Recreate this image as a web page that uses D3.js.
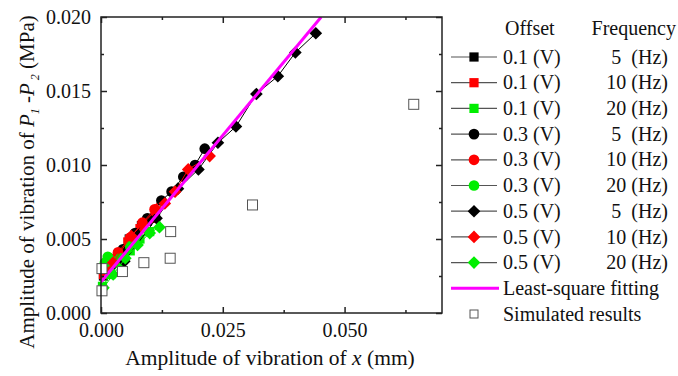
<!DOCTYPE html>
<html>
<head>
<meta charset="utf-8">
<script src="https://cdn.jsdelivr.net/npm/d3@7"></script>
<style>
  body { margin: 0; background: #fff; }
  svg text { font-family: "Liberation Serif", "Times New Roman", serif; fill: #111; }
</style>
</head>
<body>
<div id="chart"></div>
<script>
// series: [x (mm), P1-P2 (MPa)]
const s01_5 = [[0.0005,0.0025],[0.0035,0.0038],[0.0058,0.0050],[0.0083,0.0059],[0.0095,0.0062],[0.0112,0.0064]];
const s01_10 = [[0.0005,0.0026],[0.0030,0.0037],[0.0055,0.0048],[0.0080,0.0057],[0.0105,0.0064]];
const s01_20 = [[0.0003,0.0018],[0.0020,0.0026],[0.0040,0.0034],[0.0060,0.0042],[0.0080,0.0050],[0.0100,0.0055]];
const s03_5 = [[0.0020,0.0032],[0.0045,0.0043],[0.0070,0.0054],[0.0095,0.0064],[0.0124,0.0076],[0.0145,0.0082],[0.0169,0.0092],[0.0193,0.0100],[0.0213,0.0111]];
const s03_10 = [[0.0012,0.0030],[0.0035,0.0041],[0.0060,0.0051],[0.0085,0.0061],[0.0110,0.0070]];
const s03_20 = [[0.0008,0.0034],[0.0014,0.0038],[0.0022,0.0035],[0.0040,0.0037],[0.0060,0.0045]];
const s05_5 = [[0.0048,0.0035],[0.0114,0.0064],[0.0158,0.0084],[0.0200,0.0097],[0.0240,0.0115],[0.0277,0.0126],[0.0319,0.0148],[0.0363,0.0160],[0.0399,0.0176],[0.0441,0.0189]];
const s05_10 = [[0.0025,0.0034],[0.0062,0.0052],[0.0114,0.0070],[0.0131,0.0074],[0.0152,0.0082],[0.0179,0.0097],[0.0223,0.0106]];
const s05_20 = [[0.0005,0.0017],[0.0025,0.0026],[0.0050,0.0037],[0.0075,0.0046],[0.0100,0.0054],[0.0120,0.0058]];
const simulated = [[0.0002,0.0030],[0.0002,0.0015],[0.0044,0.0028],[0.0088,0.0034],[0.0142,0.0037],[0.0143,0.0055],[0.0311,0.0073],[0.0642,0.0141]];
const fitX = [0, 0.0452];
const fitY = [0.0021, 0.0200];

const offsets = ["0.1 (V)","0.1 (V)","0.1 (V)","0.3 (V)","0.3 (V)","0.3 (V)","0.5 (V)","0.5 (V)","0.5 (V)"];
const freqs = ["5  (Hz)","10 (Hz)","20 (Hz)","5  (Hz)","10 (Hz)","20 (Hz)","5  (Hz)","10 (Hz)","20 (Hz)"];
const seriesData = [s01_5, s01_10, s01_20, s03_5, s03_10, s03_20, s05_5, s05_10, s05_20];
const colors = ["#000000","#ff0000","#00ee00"];
// square, circle, diamond (square turned 45 deg)
const shapes = [d3.symbolSquare, d3.symbolCircle, d3.symbolSquare];
const symSize = [85, 90, 80];
const symRot = [0, 0, 45];

const xTicks = [0, 0.025, 0.050];
const yTicks = [0, 0.005, 0.010, 0.015, 0.020];

const W = 678, H = 376;
const mLeft = 101, mRight = 442, mTop = 17, mBottom = 313;

const svg = d3.select("#chart").append("svg")
    .attr("width", W).attr("height", H);

const x = d3.scaleLinear().domain([0, 0.07]).range([mLeft, mRight]);
const y = d3.scaleLinear().domain([0, 0.02]).range([mBottom, mTop]);

const plot = svg.append("g");
plot.append("clipPath").attr("id", "clip")
    .append("rect").attr("x", mLeft).attr("y", mTop)
    .attr("width", mRight - mLeft).attr("height", mBottom - mTop);

const line = d3.line().x(d => x(d[0])).y(d => y(d[1]));

// data series
seriesData.forEach((data, i) => {
    const col = colors[i % 3];
    const k = Math.floor(i / 3);
    plot.append("path")
        .datum(data)
        .attr("d", line)
        .attr("fill", "none")
        .attr("stroke", col)
        .attr("stroke-width", 1);
    plot.selectAll(null)
        .data(data)
        .enter()
        .append("path")
        .attr("transform", d => `translate(${x(d[0])},${y(d[1])}) rotate(${symRot[k]})`)
        .attr("d", d3.symbol().type(shapes[k]).size(symSize[k]))
        .attr("fill", col);
});

// least-square fit
plot.append("path")
    .datum(fitX.map((v, i) => [v, fitY[i]]))
    .attr("d", line)
    .attr("clip-path", "url(#clip)")
    .attr("fill", "none")
    .attr("stroke", "#ff00ff")
    .attr("stroke-width", 3);

// simulated results
plot.selectAll(".sim")
    .data(simulated)
    .enter()
    .append("rect")
    .attr("class", "sim")
    .attr("x", d => x(d[0]) - 5)
    .attr("y", d => y(d[1]) - 5)
    .attr("width", 10).attr("height", 10)
    .attr("fill", "#fff")
    .attr("stroke", "#555")
    .attr("stroke-width", 1);

// axes (ticks inside)
const fmt = d3.format(".3f");
svg.append("g")
    .attr("transform", `translate(0,${mBottom})`)
    .call(d3.axisBottom(x).tickValues(xTicks).tickFormat(fmt).tickSizeInner(-6).tickSizeOuter(0).tickPadding(10))
    .call(g => g.select(".domain").remove())
    .call(g => g.selectAll("text").attr("font-size", 20));
svg.append("g")
    .attr("transform", `translate(0,${mTop})`)
    .call(d3.axisTop(x).tickValues(xTicks).tickFormat("").tickSizeInner(-6).tickSizeOuter(0))
    .call(g => g.select(".domain").remove());
svg.append("g")
    .attr("transform", `translate(${mLeft},0)`)
    .call(d3.axisLeft(y).tickValues(yTicks).tickFormat(fmt).tickSizeInner(-6).tickSizeOuter(0).tickPadding(10))
    .call(g => g.select(".domain").remove())
    .call(g => g.selectAll("text").attr("font-size", 20));
svg.append("g")
    .attr("transform", `translate(${mRight},0)`)
    .call(d3.axisRight(y).tickValues(yTicks).tickFormat("").tickSizeInner(-6).tickSizeOuter(0))
    .call(g => g.select(".domain").remove());

// minor ticks
const xMinor = xTicks.map(v => v + 0.0125);
const yMinor = yTicks.slice(0, -1).map(v => v + 0.0025);
svg.append("g").attr("transform", `translate(0,${mBottom})`)
    .call(d3.axisBottom(x).tickValues(xMinor).tickFormat("").tickSizeInner(-3).tickSizeOuter(0))
    .call(g => g.select(".domain").remove());
svg.append("g").attr("transform", `translate(0,${mTop})`)
    .call(d3.axisTop(x).tickValues(xMinor).tickFormat("").tickSizeInner(-3).tickSizeOuter(0))
    .call(g => g.select(".domain").remove());
svg.append("g").attr("transform", `translate(${mLeft},0)`)
    .call(d3.axisLeft(y).tickValues(yMinor).tickFormat("").tickSizeInner(-3).tickSizeOuter(0))
    .call(g => g.select(".domain").remove());
svg.append("g").attr("transform", `translate(${mRight},0)`)
    .call(d3.axisRight(y).tickValues(yMinor).tickFormat("").tickSizeInner(-3).tickSizeOuter(0))
    .call(g => g.select(".domain").remove());

svg.selectAll(".tick line").attr("stroke", "#222").attr("stroke-width", 1.5);

svg.append("rect")
    .attr("x", mLeft).attr("y", mTop)
    .attr("width", mRight - mLeft).attr("height", mBottom - mTop)
    .attr("fill", "none").attr("stroke", "#222").attr("stroke-width", 1.5);

// axis titles
const xt = svg.append("text")
    .attr("x", 270).attr("y", 365)
    .attr("text-anchor", "middle").attr("font-size", 21.5);
xt.append("tspan").text("Amplitude of vibration of ");
xt.append("tspan").attr("font-style", "italic").text("x");
xt.append("tspan").text(" (mm)");

const yt = svg.append("text")
    .attr("transform", `translate(34,182) rotate(-90)`)
    .attr("text-anchor", "middle").attr("font-size", 21);
yt.append("tspan").text("Amplitude of vibration of ");
yt.append("tspan").attr("font-style", "italic").text("P");
yt.append("tspan").attr("font-style", "italic").attr("font-size", 12).attr("dy", 5).text("1");
yt.append("tspan").attr("dy", -5).text(" -");
yt.append("tspan").attr("font-style", "italic").text("P");
yt.append("tspan").attr("font-style", "italic").attr("font-size", 12).attr("dy", 5).text(" 2");
yt.append("tspan").attr("dy", -5).text(" (MPa)");

// legend
const lg = svg.append("g").attr("font-size", 20);
lg.append("text").attr("x", 505).attr("y", 35).text("Offset");
lg.append("text").attr("x", 676).attr("y", 35).attr("text-anchor", "end").text("Frequency");

const rowY = i => 57 + i * 25.7;
seriesData.forEach((data, i) => {
    const yy = rowY(i);
    const col = colors[i % 3];
    const k = Math.floor(i / 3);
    lg.append("line").attr("x1", 451).attr("x2", 497).attr("y1", yy).attr("y2", yy)
        .attr("stroke", "#555").attr("stroke-width", 1.2);
    lg.append("path")
        .attr("transform", `translate(474,${yy}) rotate(${symRot[k]})`)
        .attr("d", d3.symbol().type(shapes[k]).size(symSize[k]))
        .attr("fill", col);
    lg.append("text").attr("x", 503).attr("y", yy).attr("dy", "0.33em").text(offsets[i]);
    lg.append("text").attr("x", 668).attr("y", yy).attr("dy", "0.33em")
        .attr("text-anchor", "end").style("white-space", "pre").text(freqs[i]);
});
const yFit = rowY(9);
lg.append("line").attr("x1", 451).attr("x2", 499).attr("y1", yFit).attr("y2", yFit)
    .attr("stroke", "#ff00ff").attr("stroke-width", 3);
lg.append("text").attr("x", 503).attr("y", yFit).attr("dy", "0.33em").text("Least-square fitting");
const ySim = rowY(10);
lg.append("rect").attr("x", 470).attr("y", ySim - 4).attr("width", 8).attr("height", 8)
    .attr("fill", "#fff").attr("stroke", "#555").attr("stroke-width", 1);
lg.append("text").attr("x", 503).attr("y", ySim).attr("dy", "0.33em").text("Simulated results");
</script>
</body>
</html>
